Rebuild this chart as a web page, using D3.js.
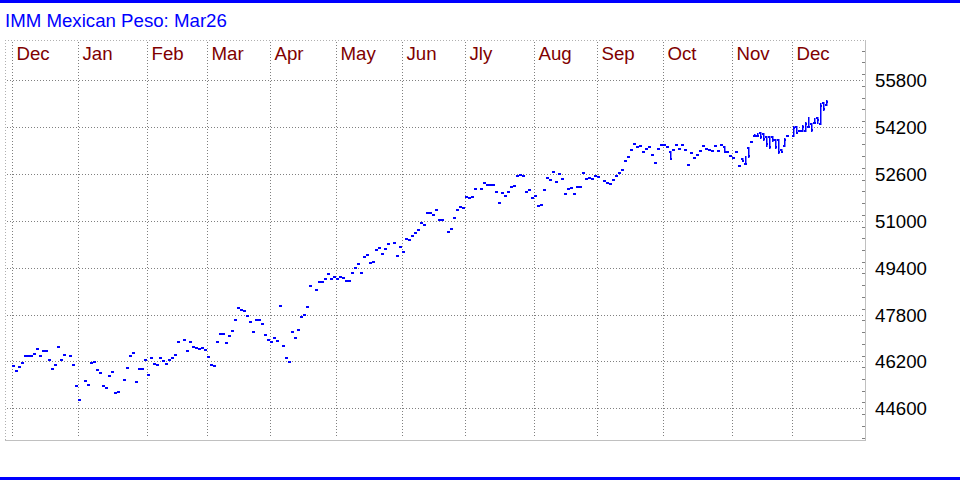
<!DOCTYPE html>
<html>
<head>
<meta charset="utf-8">
<script src="https://cdn.jsdelivr.net/npm/d3@7"></script>
<style>
  body { margin: 0; background: #fff; }
  svg { display: block; font-family: Arial, "Liberation Sans", sans-serif; }
</style>
</head>
<body>
<div id="container"></div>
<script>
/* CONSTANTS AND GLOBALS */
const width = 960, height = 480
const plot = { left: 5, right: 865, top: 40, bottom: 440 }

/* DATA */
const title = "IMM Mexican Peso: Mar26"
const months = ["Dec", "Jan", "Feb", "Mar", "Apr", "May", "Jun", "Jly", "Aug", "Sep", "Oct", "Nov", "Dec"]
// bar index where each month's grid line sits
const monthStarts = [0, 22, 45, 65, 86, 108, 130, 151, 174, 195, 217, 240, 260]
const yTicks = [44600, 46200, 47800, 49400, 51000, 52600, 54200, 55800]

// daily settlement, one per trading slot (null = holiday, no bar)
const settle = [
  46040, 45860, 46010, 46140, 46370, 46370, 46370, 46440, 46620, 46370,
  46540, 46540, 46240, 45930, 46070, 46680, 46240, 46410, null, 46370,
  46070, 45360, 44870, null, 45520, 45380, 46140, 46170, 45900, 45790,
  45350, 45280, 45690, 45830, 45110, 45150, null, 45560, 45960, 46370,
  46480, 45490, 45930, 45930, 46240, 45730, 46310, 46100, 46070, 46310,
  46200, 46100, 46240, 46310, 46410, 46850, null, 46920, 46540, 46850,
  46680, 46650, 46610, 46650, 46580, 46340, 46070, 46030, 46850, 47120,
  47120, 46820, 47060, 47230, 47600, 48010, 47940, 47910, 47740, 47530,
  47190, 47600, 47600, 47470, 47090, 46920, 46850, 46990, 46890, 48080,
  46720, 46310, 46170, 47190, 46990, 47260, 47700, 47770, 48050, 48760,
  null, 48630, 48900, 48900, 49000, 49170, 49000, 49070, 49000, 49070,
  49030, 48930, 48930, 49210, 49380, 49510, 49210, 49750, 49820, 49550,
  49580, 49990, 50060, 49850, 50020, 50190, null, 50230, 49790, 50090,
  49920, 50370, 50330, 50470, 50570, 50670, 50910, 50840, 51250, 51250,
  51180, 51350, 51010, 51010, null, 50600, 50710, 51080, 51350, 51460,
  51420, 51800, 51760, 51800, 52070, null, 52070, 52280, 52210, 52210,
  52210, 51970, 51590, 51930, 51830, 51970, 52140, 52170, 52510, 52550,
  52510, 51970, 52040, 51760, 51830, 51490, 51530, 52040, 52450, 52380,
  52650, 52310, 52580, 52410, 51900, 52070, 52110, 51900, 52140, 52140,
  52620, 52410, 52450, 52410, 52510, 52480, null, 52340, 52280, 52240,
  52380, 52510, 52620, 52720, 53030, 53160, 53400, 53610, 53500, 53540,
  53330, 53440, 53500, 53230, 52960, 53440, 53570, 53570, 53500, 53100,
  53400, 53570, 53440, 53570, 53400, 52890, 53300, 53130, 53230, 53380,
  53540, 53440, 53400, 53370, 53540, 53370, 53570, 53330, 53330, 53200,
  53130, 53330, 52860, 53050, 52950, 53200, 53670, 53900, 53900, 53850,
  53780, 53600, 53500, 53750, 53500, 53350, 53350, 53750, 53880, null,
  54150, 54000, 54050, 54200, 54300, 54200, 54100, 54350, 54450, 54900,
  54800, 55050
]

// bars with a traded range: [index, open, high, low]
const ranges = [
  [219, 53330, 53330, 53100],
  [237, 53500, 53500, 53330],
  [243, 53090, 53090, 53020],
  [244, 52920, 53160, 52920],
  [245, 53470, 53470, 53160],
  [247, 53880, 53910, 53880],
  [248, 53880, 53950, 53880],
  [249, 53980, 53980, 53810],
  [250, 53950, 53950, 53740],
  [251, 53850, 53850, 53540],
  [252, 53850, 53850, 53470],
  [253, 53850, 53850, 53710],
  [254, 53740, 53740, 53470],
  [255, 53740, 53740, 53310],
  [256, 53400, 53400, 53330],
  [257, 53540, 53780, 53540],
  [260, 53880, 54190, 53880],
  [261, 54190, 54190, 53980],
  [263, 54050, 54220, 54050],
  [264, 54050, 54320, 54050],
  [265, 54190, 54490, 54190],
  [266, 54290, 54290, 54050],
  [267, 54320, 54460, 54320],
  [268, 54490, 54490, 54320],
  [269, 54290, 54970, 54290],
  [270, 55010, 55010, 54770],
  [271, 54950, 55090, 54950]
]

/* BUILD BARS */
const bars = settle.map((c, i) => c == null ? null : { i, o: c, h: c, l: c, c })
ranges.forEach(([i, o, h, l]) => { Object.assign(bars[i], { o, h, l }) })
const data = bars.filter(d => d)

/* SCALES */
const slotW = 3
const xScale = d3.scaleLinear()
  .domain([-2.2, (plot.right - plot.left) / slotW - 2.2])
  .range([plot.left, plot.right])

const yScale = d3.scaleLinear()
  .domain([44600, 55800])
  .range([408.3, 80])

/* SVG */
const svg = d3.select("#container")
  .append("svg")
  .attr("width", width)
  .attr("height", height)

// blue rules top and bottom
svg.append("rect").attr("x", 0).attr("y", 0).attr("width", width).attr("height", 3).attr("fill", "#0000ff")
svg.append("rect").attr("x", 0).attr("y", 477).attr("width", width).attr("height", 3).attr("fill", "#0000ff")

svg.append("text")
  .attr("x", 5)
  .attr("y", 27)
  .attr("fill", "#0000ff")
  .style("font-size", "18.67px")
  .text(title)

// frame
svg.append("line")
  .attr("x1", plot.left).attr("x2", plot.right)
  .attr("y1", plot.top + 0.5).attr("y2", plot.top + 0.5)
  .attr("stroke", "#b0b0b0").attr("stroke-dasharray", "1,2")
svg.append("line")
  .attr("x1", plot.left + 0.5).attr("x2", plot.left + 0.5)
  .attr("y1", plot.top).attr("y2", plot.bottom)
  .attr("stroke", "#b0b0b0").attr("stroke-dasharray", "1,2")
svg.append("line")
  .attr("x1", plot.left).attr("x2", plot.right + 1)
  .attr("y1", plot.bottom + 0.5).attr("y2", plot.bottom + 0.5)
  .attr("stroke", "#c0c0c0")
svg.append("line")
  .attr("x1", plot.right + 0.5).attr("x2", plot.right + 0.5)
  .attr("y1", plot.top).attr("y2", plot.bottom)
  .attr("stroke", "#c0c0c0")

// horizontal grid
svg.selectAll(".hgrid")
  .data(yTicks)
  .join("line")
  .attr("class", "hgrid")
  .attr("x1", plot.left + 2).attr("x2", plot.right - 2)
  .attr("y1", d => Math.round(yScale(d)) + 0.5)
  .attr("y2", d => Math.round(yScale(d)) + 0.5)
  .attr("stroke", "#808080")
  .attr("stroke-dasharray", "1,2")

// month grid + labels
const monthX = d => Math.round(xScale(d)) + 0.5
svg.selectAll(".vgrid")
  .data(monthStarts)
  .join("line")
  .attr("class", "vgrid")
  .attr("x1", monthX).attr("x2", monthX)
  .attr("y1", plot.top + 2).attr("y2", plot.bottom - 3)
  .attr("stroke", "#808080")
  .attr("stroke-dasharray", "1,2")

svg.selectAll(".month")
  .data(monthStarts)
  .join("text")
  .attr("class", "month")
  .attr("x", d => monthX(d) + 4)
  .attr("y", 60)
  .attr("fill", "#800000")
  .style("font-size", "18.67px")
  .text((d, i) => months[i])

// right axis minor ticks + labels
const minorTicks = d3.range(43600, 57200, 400)
svg.selectAll(".minor")
  .data(minorTicks)
  .join("line")
  .attr("class", "minor")
  .attr("x1", plot.right - 3).attr("x2", plot.right)
  .attr("y1", d => Math.round(yScale(d)) + 0.5)
  .attr("y2", d => Math.round(yScale(d)) + 0.5)
  .attr("stroke", "#808080")

svg.selectAll(".ylab")
  .data(yTicks)
  .join("text")
  .attr("class", "ylab")
  .attr("x", 875)
  .attr("y", d => yScale(d) + 7)
  .attr("fill", "#000")
  .style("font-size", "18.67px")
  .text(d => d)

// OHLC bars
const g = svg.append("g").attr("fill", "#0000ff")
const left = d => Math.round(xScale(d.i))
const py = v => Math.round(yScale(v))

// flat bars: one dash
g.selectAll(".flat")
  .data(data.filter(d => d.h === d.l))
  .join("rect")
  .attr("class", "flat")
  .attr("x", left)
  .attr("y", d => py(d.c) - 1)
  .attr("width", slotW)
  .attr("height", 2)

const ranged = data.filter(d => d.h !== d.l)
g.selectAll(".stem")
  .data(ranged)
  .join("rect")
  .attr("class", "stem")
  .attr("x", d => left(d) + 1)
  .attr("y", d => py(d.h) - 1)
  .attr("width", 1.5)
  .attr("height", d => py(d.l) - py(d.h) + 2)
g.selectAll(".open")
  .data(ranged)
  .join("rect")
  .attr("class", "open")
  .attr("x", left)
  .attr("y", d => py(d.o) - 1)
  .attr("width", 1.5)
  .attr("height", 2)
g.selectAll(".close")
  .data(ranged)
  .join("rect")
  .attr("class", "close")
  .attr("x", d => left(d) + 1.5)
  .attr("y", d => py(d.c) - 1)
  .attr("width", 1.5)
  .attr("height", 2)
</script>
</body>
</html>
